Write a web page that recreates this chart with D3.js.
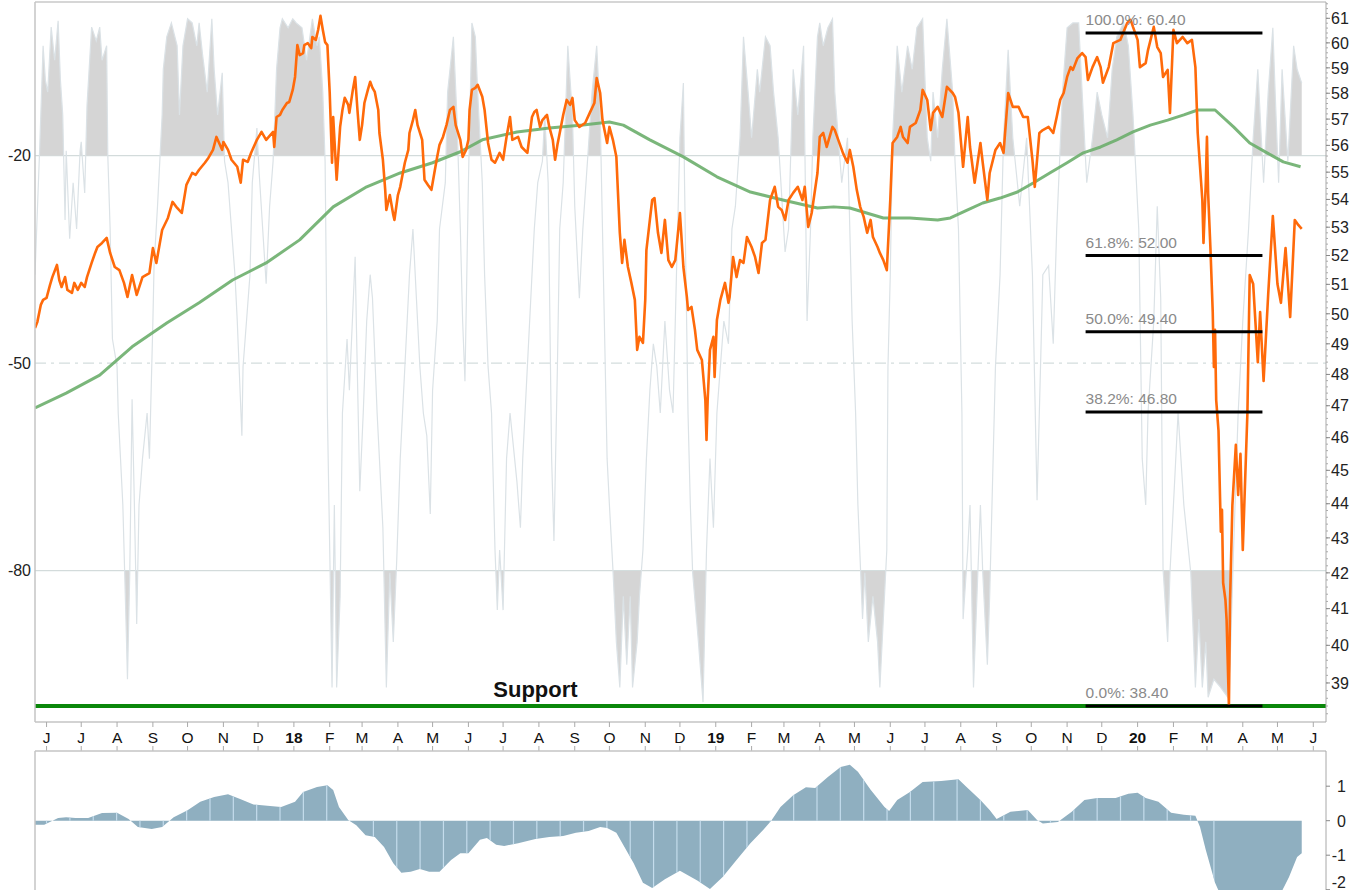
<!DOCTYPE html>
<html><head><meta charset="utf-8">
<script src="https://cdn.jsdelivr.net/npm/d3@7"></script>
<style>
html,body{margin:0;padding:0;background:#fff;}
svg{display:block;font-family:"Liberation Sans",Arial,sans-serif;}
</style></head><body>
<svg id="chart" width="1363" height="890"></svg>
<script>
// ---------------- DATA (day offsets from baseDate, values) ----------------
const baseDate = "2017-06-01";
const xDomain = ["2017-05-22", "2020-06-12"];

const priceData = [[-10,49.52],[-8,49.72],[-5,50.30],[-3,50.47],[0,50.54],[3,50.98],[5,51.25],[9,51.67],[11,51.15],[13,50.91],[16,51.25],[18,50.81],[22,50.71],[24,51.05],[27,50.81],[30,51.05],[33,50.91],[35,51.25],[39,51.74],[42,52.09],[44,52.30],[48,52.44],[52,52.62],[55,52.09],[59,51.60],[63,51.49],[67,51.05],[70,50.57],[74,51.32],[78,50.64],[83,51.25],[89,51.39],[92,52.26],[95,51.74],[100,52.90],[105,53.33],[109,53.91],[113,53.69],[117,53.51],[121,54.53],[126,54.97],[129,54.90],[132,55.09],[137,55.35],[140,55.53],[144,55.83],[147,56.32],[152,55.83],[153,56.13],[157,55.83],[160,55.46],[165,55.20],[168,54.61],[170,55.46],[174,55.38],[177,55.72],[182,56.21],[186,56.51],[190,56.21],[196,56.51],[197,55.94],[199,57.08],[202,57.16],[204,57.35],[208,57.62],[210,57.66],[213,58.13],[215,58.64],[217,59.91],[219,59.51],[222,59.59],[223,59.91],[226,59.99],[229,59.79],[230,60.24],[233,60.12],[235,60.53],[237,61.10],[239,60.53],[241,60.03],[243,59.91],[245,58.01],[247,55.35],[248,57.08],[251,54.72],[254,56.70],[256,57.35],[258,57.82],[261,57.55],[262,57.24],[265,58.13],[267,58.64],[269,57.35],[271,56.21],[273,56.77],[275,57.62],[278,58.13],[280,58.45],[282,58.21],[284,58.05],[287,57.35],[288,56.47],[291,55.46],[293,54.35],[294,53.62],[297,54.16],[300,53.44],[301,53.26],[304,54.16],[306,54.46],[308,54.90],[310,55.35],[313,55.83],[314,56.47],[317,56.96],[319,57.35],[321,56.77],[325,56.21],[327,54.72],[330,54.53],[333,54.35],[336,55.09],[338,55.57],[340,56.02],[343,56.32],[346,56.77],[349,57.35],[352,57.47],[354,56.77],[358,56.21],[360,55.57],[363,55.83],[365,56.21],[366,57.35],[368,58.13],[371,58.21],[373,58.33],[377,57.86],[379,57.35],[382,56.09],[385,55.46],[388,55.35],[390,55.53],[392,55.72],[395,55.46],[398,56.32],[401,57.08],[403,56.21],[408,56.32],[411,55.94],[416,55.72],[418,56.39],[420,57.08],[422,57.27],[424,57.35],[427,56.70],[429,56.96],[433,57.16],[435,56.70],[438,56.21],[440,55.46],[442,56.02],[444,56.47],[447,57.16],[450,57.74],[453,57.55],[455,57.82],[457,56.96],[461,56.70],[466,56.85],[470,57.24],[474,57.62],[476,58.60],[479,58.01],[481,56.96],[485,56.09],[487,56.70],[490,56.21],[493,55.57],[494,54.61],[496,52.80],[498,51.74],[500,52.55],[503,51.60],[506,51.05],[509,50.47],[511,48.80],[513,49.23],[516,49.03],[518,50.47],[519,52.19],[522,53.26],[524,53.98],[526,54.05],[529,52.80],[532,52.09],[535,53.26],[538,51.84],[541,51.60],[544,51.84],[548,53.51],[551,51.60],[554,50.57],[555,50.13],[558,50.23],[561,49.46],[563,48.80],[567,48.47],[570,47.18],[571,45.93],[572,47.18],[574,48.80],[577,49.23],[578,47.92],[580,49.79],[583,50.47],[587,51.05],[590,50.37],[591,50.57],[594,51.95],[597,51.25],[600,51.84],[603,51.74],[606,52.65],[610,52.30],[613,51.95],[616,51.39],[619,52.44],[622,52.55],[626,53.98],[630,54.46],[633,53.73],[636,53.62],[639,53.26],[642,53.98],[646,54.24],[650,54.46],[654,53.98],[656,54.46],[659,53.01],[662,53.51],[667,54.97],[669,56.32],[672,56.47],[675,55.94],[680,56.70],[682,56.58],[685,56.21],[689,55.72],[693,55.35],[695,55.83],[698,55.20],[701,54.35],[704,53.73],[707,53.37],[710,52.80],[713,53.26],[715,52.65],[719,52.30],[721,52.09],[724,51.84],[727,51.49],[730,53.98],[732,56.09],[736,56.32],[739,56.70],[741,56.32],[745,56.09],[747,56.70],[752,56.85],[756,57.35],[758,58.13],[762,57.74],[765,56.58],[767,57.24],[771,57.47],[775,57.08],[779,58.25],[784,58.01],[786,57.86],[789,57.24],[793,55.20],[797,57.08],[799,55.94],[803,54.61],[808,56.09],[810,55.35],[814,53.98],[816,54.97],[821,55.83],[825,56.09],[828,55.72],[832,58.01],[836,57.47],[841,57.47],[845,57.08],[849,57.08],[853,55.46],[855,54.46],[859,56.47],[862,56.58],[867,56.70],[871,56.47],[874,57.08],[877,57.74],[880,58.01],[883,58.64],[886,59.03],[888,58.92],[892,59.39],[896,59.59],[899,59.43],[901,58.52],[905,59.03],[909,59.43],[912,59.03],[914,58.41],[919,59.03],[923,59.99],[929,60.12],[935,60.81],[938,60.94],[940,60.65],[944,60.12],[946,59.03],[951,59.19],[953,59.71],[958,60.65],[961,59.83],[964,59.59],[966,58.64],[970,58.92],[972,57.24],[975,60.53],[978,59.99],[983,60.24],[987,59.99],[991,60.12],[994,59.03],[996,56.47],[998,55.20],[1000,53.98],[1001,52.44],[1003,54.61],[1004,56.32],[1005,54.24],[1007,52.26],[1009,50.06],[1010,48.24],[1011,49.46],[1012,47.18],[1014,46.21],[1016,43.18],[1017,43.82],[1018,41.72],[1020,41.24],[1021,40.69],[1023,38.40],[1024,41.24],[1026,43.96],[1029,45.78],[1031,44.26],[1033,45.50],[1035,42.65],[1039,46.77],[1041,51.32],[1044,51.01],[1048,48.40],[1050,50.06],[1053,47.79],[1057,50.67],[1061,53.40],[1065,51.01],[1068,50.37],[1072,52.26],[1076,49.89],[1080,53.26],[1083,53.08],[1086,52.94]];

const maData = [[-10,46.93],[17,47.40],[46,47.98],[74,48.90],[104,49.69],[132,50.37],[161,51.15],[190,51.74],[219,52.55],[248,53.73],[277,54.46],[306,54.97],[334,55.35],[358,55.76],[377,56.21],[407,56.51],[435,56.66],[464,56.77],[487,56.89],[499,56.77],[522,56.21],[551,55.57],[580,54.83],[609,54.27],[637,53.98],[667,53.69],[681,53.73],[695,53.69],[724,53.33],[747,53.33],[771,53.26],[782,53.33],[797,53.62],[810,53.87],[825,54.05],[840,54.27],[854,54.61],[868,54.97],[883,55.35],[897,55.72],[912,55.94],[926,56.21],[940,56.51],[955,56.77],[970,56.96],[984,57.16],[996,57.35],[1011,57.35],[1027,56.70],[1041,56.09],[1056,55.72],[1070,55.38],[1085,55.20]];

const wrData = [[-10,-37.2],[-6,-19.2],[-3,-4.1],[-1,-9.1],[1,-10.8],[4,-1.4],[7,-6.2],[10,-0.5],[12,-9.1],[14,-14.1],[16,-29.3],[17,-19.3],[20,-32.0],[23,-23.9],[26,-30.6],[29,-19.3],[30,-18.0],[33,-25.4],[35,-12.7],[39,-1.4],[43,-3.4],[46,-1.4],[48,-6.2],[52,-4.1],[53,-20.0],[55,-30.6],[57,-46.5],[61,-50.5],[62,-57.2],[66,-70.5],[69,-89.0],[70,-95.7],[72,-80.3],[74,-55.2],[76,-70.5],[78,-87.7],[80,-70.5],[83,-63.8],[87,-57.2],[89,-63.8],[92,-43.9],[93,-35.9],[96,-27.3],[100,-14.1],[101,-7.5],[104,-2.8],[108,-0.8],[113,-4.1],[115,-14.1],[118,-4.1],[122,-0.2],[126,-0.8],[130,-4.1],[132,-0.8],[135,-5.4],[139,-10.8],[143,-0.2],[145,-7.5],[148,-14.1],[152,-8.0],[154,-20.8],[157,-23.9],[160,-30.6],[163,-37.2],[165,-43.9],[169,-60.5],[170,-50.5],[173,-43.9],[176,-37.2],[178,-23.9],[182,-16.0],[184,-22.6],[187,-30.6],[190,-38.5],[193,-27.3],[196,-20.8],[199,-7.5],[202,-1.5],[204,-0.2],[209,-1.5],[213,-0.2],[216,-0.8],[221,-1.5],[225,-6.2],[230,-0.2],[234,-4.1],[236,-2.8],[239,-10.8],[241,-20.8],[242,-37.2],[243,-57.2],[245,-77.0],[247,-96.9],[248,-83.7],[249,-70.5],[251,-96.9],[254,-83.7],[256,-57.2],[260,-46.5],[262,-53.9],[267,-34.6],[268,-43.9],[271,-68.5],[274,-57.2],[277,-43.9],[280,-37.2],[282,-40.6],[286,-57.2],[288,-63.8],[291,-73.8],[294,-96.9],[297,-80.3],[300,-90.3],[303,-78.4],[306,-63.8],[308,-57.2],[312,-43.9],[314,-37.2],[317,-30.6],[320,-40.6],[323,-50.5],[326,-57.2],[329,-60.5],[332,-71.8],[334,-53.9],[338,-43.9],[340,-30.6],[345,-23.9],[347,-10.8],[352,-2.8],[355,-14.1],[358,-30.6],[360,-43.9],[362,-52.6],[365,-23.9],[368,-0.8],[371,-2.8],[373,-10.8],[377,-23.9],[379,-37.2],[382,-50.5],[385,-57.2],[388,-77.0],[390,-85.7],[392,-77.0],[395,-85.7],[398,-63.8],[401,-57.2],[403,-60.5],[407,-67.2],[410,-73.8],[412,-63.8],[416,-50.5],[420,-37.2],[422,-30.6],[425,-23.9],[429,-20.8],[431,-14.1],[434,-23.9],[437,-63.8],[439,-75.7],[442,-50.5],[444,-30.6],[447,-23.9],[451,-4.1],[455,-14.1],[457,-27.3],[461,-40.6],[464,-30.6],[468,-20.8],[472,-10.8],[476,-4.1],[479,-14.1],[481,-30.6],[485,-63.8],[487,-70.5],[490,-79.7],[493,-90.3],[496,-96.9],[499,-83.7],[502,-93.6],[505,-83.7],[507,-96.9],[511,-90.3],[513,-83.7],[516,-77.0],[519,-63.8],[522,-53.9],[525,-47.2],[528,-50.5],[531,-57.2],[535,-43.9],[539,-53.9],[542,-57.2],[545,-37.2],[548,-17.4],[551,-9.5],[552,-23.9],[555,-57.2],[557,-70.5],[559,-80.3],[564,-90.3],[568,-99.0],[571,-77.0],[574,-63.8],[577,-73.8],[580,-57.2],[583,-50.5],[586,-43.9],[590,-47.2],[593,-30.6],[596,-27.3],[600,-17.4],[603,-2.8],[607,-10.8],[610,-17.4],[615,-7.5],[617,-10.8],[622,-2.8],[626,-4.1],[629,-10.8],[633,-17.4],[639,-33.9],[642,-30.6],[646,-7.5],[650,-14.1],[655,-4.1],[658,-43.9],[661,-30.6],[663,-17.4],[667,-2.8],[669,-0.8],[672,-4.1],[676,-1.5],[680,-0.2],[682,-10.8],[685,-17.4],[688,-23.9],[693,-17.4],[697,-43.9],[700,-57.2],[702,-70.5],[706,-87.0],[708,-80.3],[711,-90.3],[715,-83.7],[719,-90.3],[721,-96.9],[724,-87.0],[727,-77.0],[728,-50.5],[730,-37.2],[732,-17.4],[736,-4.1],[740,-10.8],[745,-4.1],[749,-7.5],[753,-1.5],[758,-0.2],[762,-17.4],[765,-20.8],[767,-10.8],[771,-17.4],[775,-7.5],[779,-0.2],[784,-10.8],[786,-20.8],[789,-30.6],[792,-57.2],[793,-87.0],[797,-77.0],[799,-70.5],[802,-96.9],[805,-83.7],[808,-70.5],[810,-80.3],[814,-93.6],[816,-83.7],[821,-50.5],[825,-37.2],[828,-17.4],[832,-4.7],[836,-17.4],[842,-27.3],[848,-17.4],[853,-37.2],[857,-69.8],[860,-50.5],[862,-37.2],[867,-35.9],[871,-47.2],[874,-30.6],[879,-10.8],[883,-1.5],[888,-0.8],[893,-0.8],[896,-10.8],[900,-23.9],[905,-17.4],[909,-10.8],[913,-14.1],[918,-17.4],[922,-7.5],[926,-2.8],[932,-0.8],[936,-4.1],[940,-14.1],[945,-30.6],[948,-63.8],[951,-70.5],[953,-57.2],[958,-43.9],[961,-27.3],[964,-40.6],[966,-79.7],[970,-90.3],[972,-80.3],[975,-70.5],[979,-57.2],[984,-70.5],[990,-80.3],[994,-96.9],[997,-87.0],[1000,-96.9],[1003,-90.3],[1005,-98.3],[1010,-95.7],[1016,-96.9],[1022,-98.3],[1024,-93.6],[1027,-77.0],[1031,-57.2],[1035,-43.9],[1040,-30.6],[1044,-17.4],[1048,-7.5],[1053,-23.9],[1057,-10.8],[1061,-1.5],[1063,-10.8],[1066,-23.9],[1069,-7.5],[1074,-20.8],[1079,-4.1],[1082,-7.5],[1086,-9.5]];

const histData = [[-10,-0.12],[-2,-0.12],[10,0.08],[17,0.1],[25,0.08],[36,0.08],[48,0.22],[61,0.23],[71,0.05],[79,-0.18],[91,-0.24],[100,-0.18],[110,0.1],[122,0.3],[133,0.55],[145,0.69],[157,0.77],[168,0.62],[179,0.47],[191,0.43],[203,0.4],[215,0.55],[222,0.83],[234,0.98],[243,1.03],[248,0.89],[253,0.4],[261,0.02],[268,-0.13],[276,-0.42],[284,-0.47],[292,-0.76],[300,-1.23],[307,-1.51],[315,-1.48],[323,-1.4],[331,-1.48],[340,-1.48],[350,-1.14],[358,-0.94],[365,-0.94],[375,-0.55],[381,-0.5],[389,-0.7],[396,-0.73],[408,-0.65],[423,-0.53],[435,-0.47],[447,-0.44],[458,-0.35],[469,-0.3],[479,-0.18],[485,-0.21],[493,-0.35],[500,-0.76],[508,-1.23],[516,-1.8],[524,-1.95],[535,-1.7],[548,-1.45],[563,-1.73],[574,-1.98],[585,-1.63],[597,-1.14],[609,-0.65],[620,-0.27],[627,0.0],[635,0.4],[646,0.74],[657,0.97],[665,0.95],[676,1.27],[687,1.56],[695,1.62],[702,1.42],[713,0.9],[725,0.4],[729,0.28],[736,0.6],[747,0.83],[758,1.12],[774,1.15],[789,1.2],[796,0.98],[808,0.6],[816,0.31],[822,0.05],[834,0.26],[849,0.31],[857,0.02],[862,-0.08],[875,-0.04],[887,0.26],[898,0.6],[909,0.66],[925,0.66],[936,0.78],[944,0.81],[951,0.66],[962,0.55],[973,0.23],[984,0.17],[994,0.14],[998,-0.18],[1003,-0.85],[1011,-1.8],[1015,-2.1],[1024,-2.2],[1050,-2.2],[1068,-2.1],[1075,-1.63],[1082,-1.05],[1086,-0.94]];

const monthTicks = [["2017-06-01","J"],["2017-07-01","J"],["2017-08-01","A"],["2017-09-01","S"],["2017-10-01","O"],["2017-11-01","N"],["2017-12-01","D"],["2018-01-01","18"],["2018-02-01","F"],["2018-03-01","M"],["2018-04-01","A"],["2018-05-01","M"],["2018-06-01","J"],["2018-07-01","J"],["2018-08-01","A"],["2018-09-01","S"],["2018-10-01","O"],["2018-11-01","N"],["2018-12-01","D"],["2019-01-01","19"],["2019-02-01","F"],["2019-03-01","M"],["2019-04-01","A"],["2019-05-01","M"],["2019-06-01","J"],["2019-07-01","J"],["2019-08-01","A"],["2019-09-01","S"],["2019-10-01","O"],["2019-11-01","N"],["2019-12-01","D"],["2020-01-01","20"],["2020-02-01","F"],["2020-03-01","M"],["2020-04-01","A"],["2020-05-01","M"],["2020-06-01","J"]];

const priceTicks = [39,40,41,42,43,44,45,46,47,48,49,50,51,52,53,54,55,56,57,58,59,60,61];
const wrTicks = [-20,-50,-80];
const histTicks = [1,0,-1,-2];

const fibLevels = [60.40, 52.00, 49.40, 46.80, 38.40];
const fibLabels = ["100.0%: 60.40", "61.8%: 52.00", "50.0%: 49.40", "38.2%: 46.80", "0.0%: 38.40"];
const fibRange = ["2019-11-17", "2020-04-18"];
const supportLevel = 38.40;
const supportLabel = "Support";
const supportLabelDate = "2018-07-29";

// ---------------- DRAWING ----------------
const parse = d3.timeParse("%Y-%m-%d");
const base = parse(baseDate);
const dd = d => new Date(base.getTime() + d * 864e5);

const L = 35, R = 1326, T = 2, B = 722;
const LT = 751, LB = 890;

const x = d3.scaleTime().domain(xDomain.map(parse)).range([L, R]);
const y = d3.scaleLog().domain([38.4, 60.4]).range([706, 33]);
const yR = d3.scaleLinear().domain([0, -100]).range([17.4, 709]);
const yH = d3.scaleLinear().domain([0, 1]).range([820.7, 786.2]);

const svg = d3.select("#chart");
const defs = svg.append("defs");
defs.append("clipPath").attr("id","clipMain").append("rect").attr("x",L).attr("y",T).attr("width",R-L).attr("height",B-T);
defs.append("clipPath").attr("id","clipTop").append("rect").attr("x",L).attr("y",T).attr("width",R-L).attr("height",yR(-20)-T);
defs.append("clipPath").attr("id","clipBot").append("rect").attr("x",L).attr("y",yR(-80)).attr("width",R-L).attr("height",B-yR(-80));

const main = svg.append("g").attr("clip-path","url(#clipMain)");

// gridlines for %R
wrTicks.forEach(v => {
  main.append("line").attr("x1",L).attr("x2",R).attr("y1",yR(v)).attr("y2",yR(v))
    .attr("stroke","#d3dddd").attr("stroke-width",1.3)
    .attr("stroke-dasharray", v === -50 ? "11,5,3,5" : null);
});

// %R fills
const wrAreaTop = d3.area().x(d => x(dd(d[0]))).y0(yR(-20)).y1(d => yR(d[1]));
const wrAreaBot = d3.area().x(d => x(dd(d[0]))).y0(yR(-80)).y1(d => yR(d[1]));
main.append("path").attr("d", wrAreaTop(wrData)).attr("fill","#d5d5d5").attr("clip-path","url(#clipTop)");
main.append("path").attr("d", wrAreaBot(wrData)).attr("fill","#d5d5d5").attr("clip-path","url(#clipBot)");
// %R line
const wrLine = d3.line().x(d => x(dd(d[0]))).y(d => yR(d[1]));
main.append("path").attr("d", wrLine(wrData)).attr("fill","none").attr("stroke","#dbe2e6").attr("stroke-width",1.2);

// moving average
const pLine = d3.line().x(d => x(dd(d[0]))).y(d => y(d[1]));
main.append("path").attr("d", pLine(maData)).attr("fill","none").attr("stroke","#6cae6c").attr("stroke-width",3).attr("stroke-opacity",0.9).attr("stroke-linejoin","round");

// support line
main.append("line").attr("x1",L).attr("x2",R).attr("y1",y(supportLevel)).attr("y2",y(supportLevel))
  .attr("stroke","#0a870a").attr("stroke-width",4);

// price
main.append("path").attr("d", pLine(priceData)).attr("fill","none").attr("stroke","#ff6a0a").attr("stroke-width",2.6).attr("stroke-linejoin","round");

// fib lines
const fx1 = x(parse(fibRange[0])), fx2 = x(parse(fibRange[1]));
fibLevels.forEach((v, i) => {
  svg.append("line").attr("x1",fx1).attr("x2",fx2).attr("y1",y(v)).attr("y2",y(v)).attr("stroke","#000").attr("stroke-width",3);
  svg.append("text").attr("x",fx1).attr("y",y(v)-8).attr("fill","#8a8a8a").attr("font-size",15.5).text(fibLabels[i]);
});

// support label
svg.append("text").attr("x", x(parse(supportLabelDate))).attr("y", y(supportLevel)-9)
  .attr("text-anchor","middle").attr("font-weight","bold").attr("font-size",22).attr("fill","#111").text(supportLabel);

// borders
svg.append("line").attr("x1",L).attr("x2",R).attr("y1",T).attr("y2",T).attr("stroke","#c8c8c8").attr("stroke-width",1.5);
svg.append("line").attr("x1",L).attr("x2",L).attr("y1",T).attr("y2",B).attr("stroke","#c4c4c4").attr("stroke-width",1.5);
svg.append("line").attr("x1",L).attr("x2",R).attr("y1",B).attr("y2",B).attr("stroke","#c4c4c4").attr("stroke-width",1.5);
svg.append("line").attr("x1",R).attr("x2",R).attr("y1",T).attr("y2",B).attr("stroke","#a8a8a8").attr("stroke-width",1);

// right price axis: minor ticks + major
d3.range(38.2, 61.7, 0.2).forEach(v => {
  svg.append("line").attr("x1",R).attr("x2",R+2).attr("y1",y(v)).attr("y2",y(v)).attr("stroke","#aaa");
});
priceTicks.forEach(v => {
  svg.append("line").attr("x1",R).attr("x2",R+4).attr("y1",y(v)).attr("y2",y(v)).attr("stroke","#888");
  svg.append("text").attr("x",R+5).attr("y",y(v)).attr("dy","0.36em").attr("font-size",16).attr("fill","#222").text(v);
});

// left %R axis labels
wrTicks.forEach(v => {
  svg.append("text").attr("x",31).attr("y",yR(v)).attr("dy","0.36em").attr("text-anchor","end").attr("font-size",16).attr("fill","#222").text(v);
});

// month axis
monthTicks.forEach(([ds, lab]) => {
  const xx = x(parse(ds));
  svg.append("line").attr("x1",xx).attr("x2",xx).attr("y1",B).attr("y2",B+5).attr("stroke","#aaa");
  svg.append("line").attr("x1",xx).attr("x2",xx).attr("y1",LT-5).attr("y2",LT).attr("stroke","#aaa");
  const isYear = /^\d+$/.test(lab);
  svg.append("text").attr("x",xx).attr("y",737).attr("dy","0.36em").attr("text-anchor","middle")
    .attr("font-size",15.5).attr("font-weight", isYear ? "bold" : "normal").attr("fill","#111").text(lab);
});

// lower panel
const histArea = d3.area().x(d => x(dd(d[0]))).y0(yH(0)).y1(d => yH(d[1]));
defs.append("clipPath").attr("id","clipHist").append("path").attr("d", histArea(histData));
svg.append("path").attr("d", histArea(histData)).attr("fill","#8fafc0");
const sepG = svg.append("g").attr("clip-path","url(#clipHist)");
for (let d = 1010; d > -12; d -= 20.2) {
  const xx = x(dd(d));
  sepG.append("line").attr("x1",xx).attr("x2",xx).attr("y1",LT).attr("y2",LB).attr("stroke","#c4dcec").attr("stroke-width",1.2);
}
svg.append("line").attr("x1",L).attr("x2",R).attr("y1",LT).attr("y2",LT).attr("stroke","#c4c4c4").attr("stroke-width",1.5);
svg.append("line").attr("x1",L).attr("x2",L).attr("y1",LT).attr("y2",LB).attr("stroke","#c4c4c4").attr("stroke-width",1.5);
svg.append("line").attr("x1",R).attr("x2",R).attr("y1",LT).attr("y2",LB).attr("stroke","#a8a8a8").attr("stroke-width",1);
histTicks.forEach(v => {
  svg.append("line").attr("x1",R).attr("x2",R+4).attr("y1",yH(v)).attr("y2",yH(v)).attr("stroke","#888");
  // keep the lowest label inside the picture (baseline no lower than the bottom edge)
  const ty = Math.min(yH(v) + 6, 888);
  svg.append("text").attr("x",1346).attr("y",ty).attr("text-anchor","end").attr("font-size",16).attr("fill","#222").text(v);
});
</script>
</body></html>
